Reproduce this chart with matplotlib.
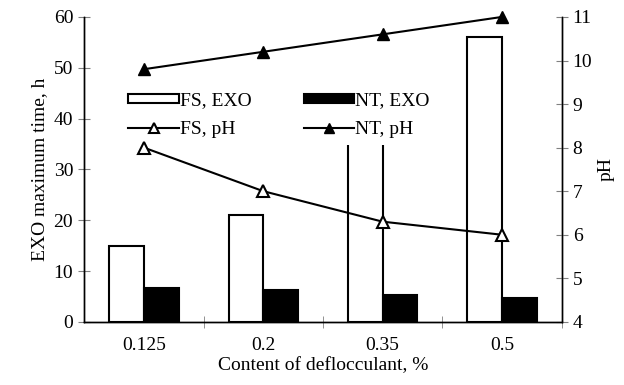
import numpy as np
import matplotlib.pyplot as plt
from matplotlib.patches import Patch
from matplotlib.lines import Line2D

plt.rcParams["font.family"] = ["Liberation Serif", "DejaVu Serif"]
plt.rcParams["font.size"] = 14

categories = ["0.125", "0.2", "0.35", "0.5"]
fs_exo = [15, 21, 40, 56]
nt_exo = [6.7, 6.3, 5.3, 4.7]
fs_ph = [8.0, 7.0, 6.3, 6.0]
nt_ph = [9.8, 10.2, 10.6, 11.0]

x = np.arange(len(categories))
w = 0.29

fig, ax1 = plt.subplots(figsize=(6.24, 3.85), dpi=100)
fig.subplots_adjust(left=0.135, right=0.9, top=0.956, bottom=0.164)

ax1.bar(x - w / 2, fs_exo, w, facecolor="white", edgecolor="black", linewidth=1.5)
ax1.bar(x + w / 2, nt_exo, w, facecolor="black", edgecolor="black", linewidth=1.5)
ax1.set_xlim(-0.5, len(categories) - 0.5)
ax1.set_ylim(0, 60)
ax1.set_yticks(range(0, 61, 10))
ax1.set_xticks(x)
ax1.set_xticklabels(categories)
ax1.set_xticks(np.arange(0.5, len(categories) - 0.5 + 1e-9, 1), minor=True)
ax1.tick_params(axis="x", which="major", length=0, pad=11)
ax1.tick_params(axis="x", which="minor", direction="inout", length=8, color="grey")
ax1.tick_params(axis="y", direction="inout", length=8, color="grey", pad=4)
ax1.set_xlabel("Content of deflocculant, %", labelpad=2)
ax1.set_ylabel("EXO maximum time, h", labelpad=4)
ax1.spines["top"].set_visible(False)

# pH lines sit above the legend box, bars sit below it
ax2 = ax1.twinx()
ax2.plot(x, fs_ph, color="black", linewidth=1.5, marker="^", markersize=9,
         markerfacecolor="white", markeredgecolor="black", markeredgewidth=1.5,
         zorder=6, clip_on=False)
ax2.plot(x, nt_ph, color="black", linewidth=1.5, marker="^", markersize=9,
         markerfacecolor="black", markeredgecolor="black", zorder=6, clip_on=False)
ax2.set_ylim(4, 11)
ax2.set_yticks(range(4, 12))
ax2.tick_params(axis="y", direction="inout", length=8, color="grey", pad=4)
ax2.set_ylabel("pH", labelpad=4)
ax2.spines["top"].set_visible(False)
for ax in (ax1, ax2):
    for side in ("left", "right", "bottom"):
        ax.spines[side].set_linewidth(1.0)

handles = [
    Patch(facecolor="white", edgecolor="black", linewidth=1.5, label="FS, EXO"),
    Line2D([], [], color="black", linewidth=1.5, marker="^", markersize=7,
           markerfacecolor="white", markeredgewidth=1.5, label="FS, pH"),
    Patch(facecolor="black", edgecolor="black", linewidth=1.5, label="NT, EXO"),
    Line2D([], [], color="black", linewidth=1.5, marker="^", markersize=7,
           markerfacecolor="black", label="NT, pH"),
]
leg = ax2.legend(handles=handles, ncol=2, loc="upper left",
                 bbox_to_anchor=(0.078, 0.775), frameon=True, facecolor="white",
                 edgecolor="none", framealpha=1, fancybox=False,
                 handlelength=2.6, handleheight=0.35, handletextpad=0.05,
                 columnspacing=2.7, labelspacing=0.6, borderpad=0.35,
                 borderaxespad=0)
leg.set_zorder(5)

fig.savefig("out.png", dpi=100)
